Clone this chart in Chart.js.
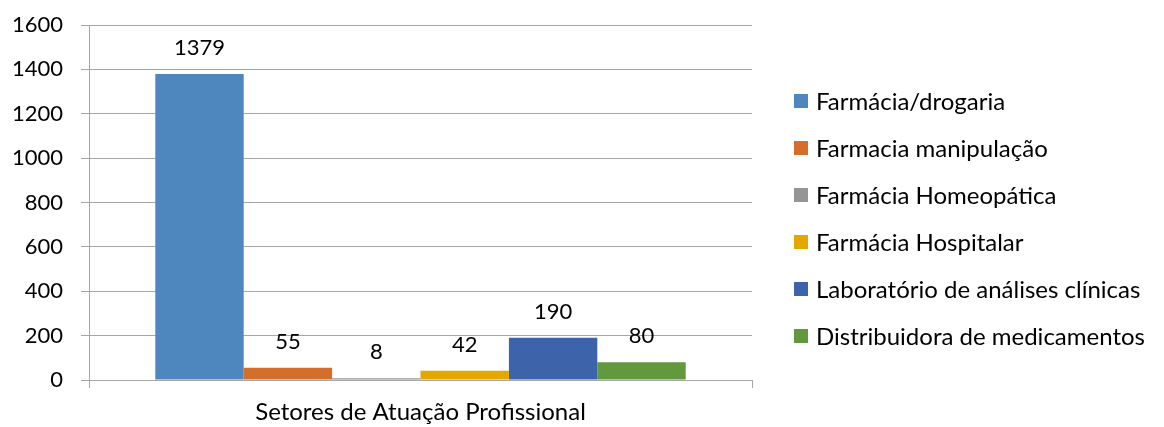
<!DOCTYPE html>
<html>
<head>
<meta charset="utf-8">
<script src="https://cdn.jsdelivr.net/npm/chart.js@4/dist/chart.umd.min.js"></script>
<style>
  html, body { margin: 0; padding: 0; background: #fff; }
  #wrap { width: 1164px; height: 427px; }
</style>
</head>
<body>
<div id="wrap"><canvas id="setoresChart" width="1164" height="427"></canvas></div>
<script>
// dados do gráfico
const categorias = ['Setores de Atuação Profissional'];
const setores = [
    'Farmácia/drogaria',
    'Farmacia manipulação',
    'Farmácia Homeopática',
    'Farmácia Hospitalar',
    'Laboratório de análises clínicas',
    'Distribuidora de medicamentos'
];
const valores = [1379, 55, 8, 42, 190, 80];
const cores = ['#4E87BD', '#D46E2B', '#959595', '#E3A700', '#3D63AA', '#62983E'];
const ticksY = [0, 200, 400, 600, 800, 1000, 1200, 1400, 1600];

const FONTE = 'Lato, "Open Sans", sans-serif';
const TAM_TEXTO = 24;   // legenda e categoria
const TAM_NUM = 22;     // números
const CINZA = '#A6A6A6';

// rótulos de valor acima de cada barra
const rotulosPlugin = {
    id: 'rotulos',
    afterDatasetsDraw(chart) {
        const ctx = chart.ctx;
        ctx.save();
        ctx.font = `${TAM_NUM}px ${FONTE}`;
        ctx.fillStyle = '#000';
        ctx.textAlign = 'center';
        ctx.textBaseline = 'middle';
        chart.data.datasets.forEach((ds, i) => {
            const bar = chart.getDatasetMeta(i).data[0];
            ctx.fillText(String(ds.data[0]), bar.x, bar.y - 26);
        });
        ctx.restore();
    }
};

// legenda à direita
const legendaPlugin = {
    id: 'legenda',
    afterDraw(chart) {
        const ctx = chart.ctx;
        ctx.save();
        ctx.font = `${TAM_TEXTO}px ${FONTE}`;
        ctx.textBaseline = 'middle';
        ctx.textAlign = 'left';
        chart.data.datasets.forEach((ds, i) => {
            const y = 101 + i * 47;
            ctx.fillStyle = ds.backgroundColor;
            ctx.fillRect(794, y - 7, 14, 14);
            ctx.fillStyle = '#000';
            ctx.fillText(ds.label, 816, y + 1);
        });
        ctx.restore();
    }
};

const ctx = document.getElementById('setoresChart').getContext('2d');
new Chart(ctx, {
    type: 'bar',
    data: {
        labels: categorias,
        datasets: setores.map((nome, i) => ({
            label: nome,
            data: [valores[i]],
            backgroundColor: cores[i],
            borderWidth: 0,
            categoryPercentage: 0.8,
            barPercentage: 1.0
        }))
    },
    options: {
        responsive: false,
        animation: false,
        layout: {
            padding: { top: 25, right: 412, left: 0, bottom: 0 }
        },
        plugins: {
            legend: { display: false },
            tooltip: { enabled: false }
        },
        scales: {
            x: {
                grid: {
                    drawOnChartArea: false,
                    offset: true,
                    tickLength: 8,
                    color: CINZA
                },
                border: { color: CINZA },
                ticks: {
                    color: '#000',
                    font: { family: FONTE, size: TAM_TEXTO },
                    padding: 10
                },
                afterFit(scale) {
                    scale.height = 47;
                    scale.paddingLeft = 0;
                    scale.paddingRight = 0;
                }
            },
            y: {
                min: 0,
                max: 1600,
                afterBuildTicks(scale) {
                    scale.ticks = ticksY.map(v => ({ value: v }));
                },
                grid: {
                    color: CINZA,
                    tickLength: 8
                },
                border: { color: CINZA },
                ticks: {
                    color: '#000',
                    font: { family: FONTE, size: TAM_NUM },
                    padding: 18,
                    callback: v => String(v)
                },
                afterFit(scale) {
                    scale.width = 89;
                    scale.paddingTop = 0;
                    scale.paddingBottom = 0;
                }
            }
        }
    },
    plugins: [rotulosPlugin, legendaPlugin]
});
</script>
</body>
</html>
